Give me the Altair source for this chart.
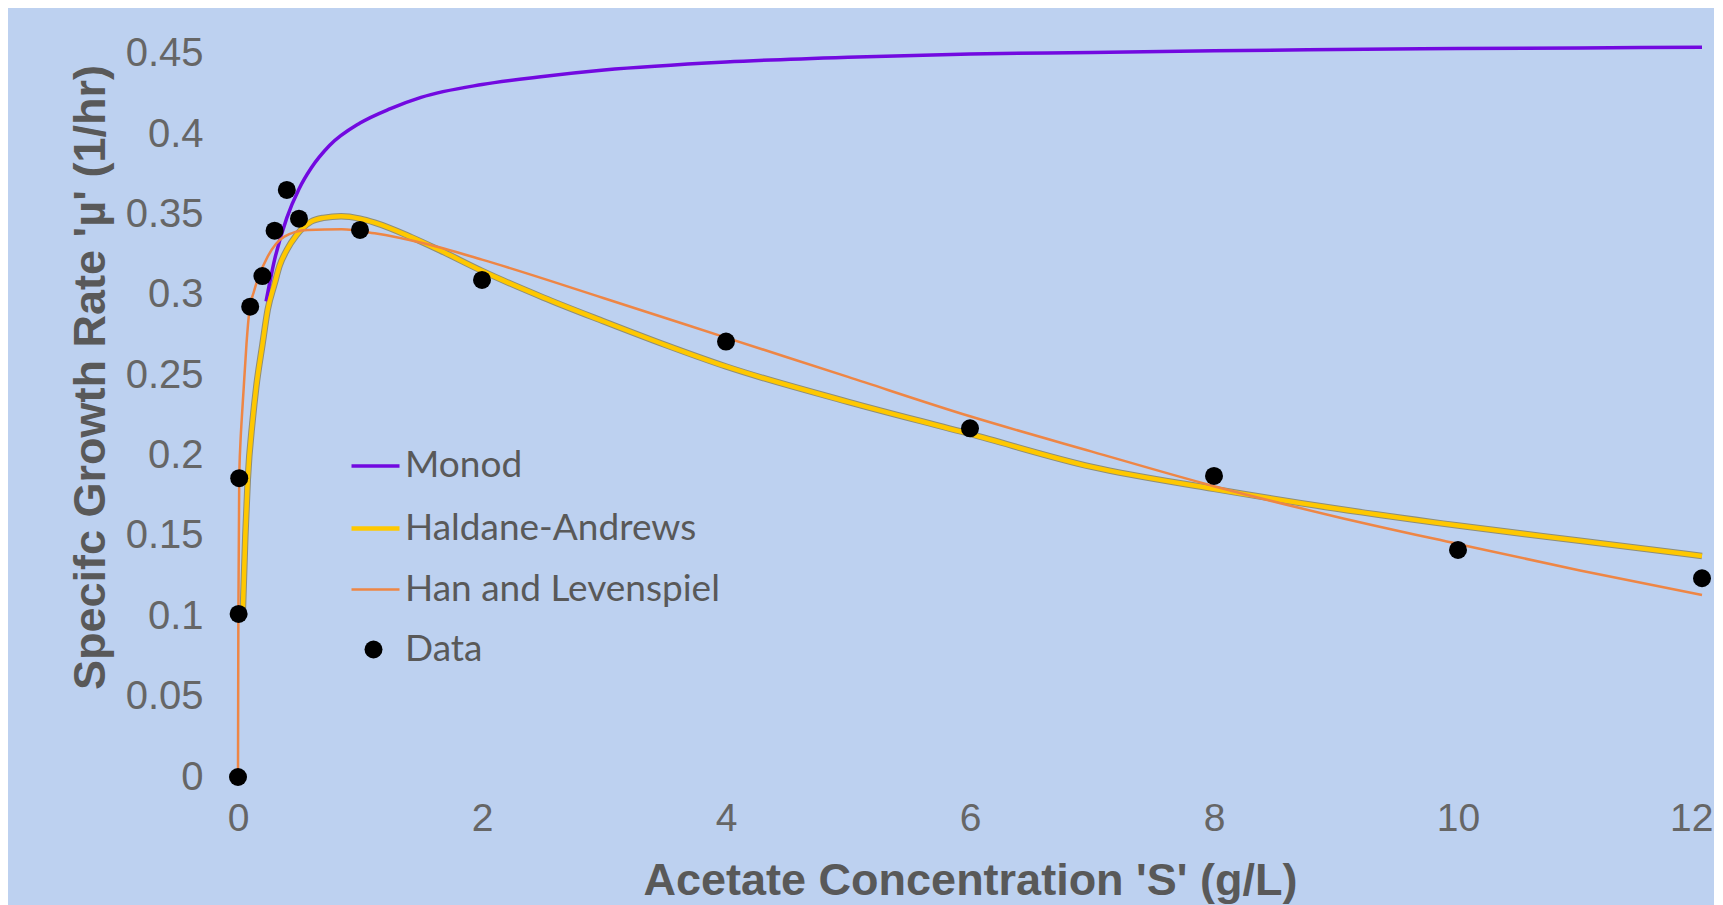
import altair as alt
import pandas as pd

# ---- data ----
data_x = [0, 0.005, 0.01, 0.1, 0.2, 0.3, 0.4, 0.5, 1, 2, 4, 6, 8, 10, 12]
data_y = [0, 0.1015, 0.186, 0.2927, 0.3118, 0.340, 0.3654, 0.3475, 0.3405,
          0.3094, 0.271, 0.217, 0.1874, 0.1413, 0.1237]

monod_x = [0.23, 0.3, 0.4, 0.5, 0.6, 0.75, 1, 1.25, 1.5, 2, 2.5, 3, 4, 5, 6,
           7, 8, 9, 10, 11, 12]
monod_y = [0.296, 0.322, 0.348, 0.366, 0.379, 0.393, 0.407, 0.416, 0.423,
           0.431, 0.436, 0.440, 0.445, 0.448, 0.450, 0.451, 0.452, 0.4528,
           0.4534, 0.4538, 0.4542]

hald_x = [0.04, 0.06, 0.08, 0.12, 0.15, 0.2, 0.244, 0.3, 0.34, 0.4, 0.477,
          0.6, 0.7, 0.846, 1.0, 1.12, 1.42, 1.65, 2.0, 2.5, 3, 3.5, 4, 5, 6,
          7, 8, 9, 10, 11, 12]
hald_y = [0.104, 0.150, 0.185, 0.222, 0.243, 0.269, 0.291, 0.307, 0.318,
          0.328, 0.337, 0.3457, 0.348, 0.349, 0.3475, 0.345, 0.336, 0.328,
          0.315, 0.2985, 0.2835, 0.269, 0.2555, 0.2335, 0.2135, 0.193,
          0.1793, 0.1671, 0.1565, 0.147, 0.1376]

han_x = [0, 0.003, 0.01, 0.02, 0.03, 0.045, 0.07, 0.094, 0.13, 0.163, 0.244,
         0.38, 0.57, 0.85, 1.12, 1.53, 2, 3, 4, 5, 6, 7, 8, 9, 10, 11, 12]
han_y = [0, 0.1, 0.185, 0.208, 0.222, 0.240, 0.270, 0.2907, 0.302, 0.310,
         0.324, 0.3363, 0.3405, 0.3409, 0.3384, 0.332, 0.322, 0.298, 0.2735,
         0.249, 0.2245, 0.2025, 0.181, 0.162, 0.145, 0.1285, 0.1133]

line_names = ["Monod", "Haldane-Andrews", "Han and Levenspiel"]
line_colors = ["#7209E0", "#FFC800", "#EE8645"]
line_widths = [3.5, 4.5, 2.5]
data_name = "Data"

x_ticks = [0, 2, 4, 6, 8, 10, 12]
y_ticks = [0, 0.05, 0.1, 0.15, 0.2, 0.25, 0.3, 0.35, 0.4, 0.45]

df_data = pd.DataFrame({"S": data_x, "mu": data_y, "series": [data_name] * len(data_x)})
df_lines = pd.concat([
    pd.DataFrame({"S": monod_x, "mu": monod_y, "series": line_names[0]}),
    pd.DataFrame({"S": hald_x, "mu": hald_y, "series": line_names[1]}),
    pd.DataFrame({"S": han_x, "mu": han_y, "series": line_names[2]}),
], ignore_index=True)
df_hald = pd.DataFrame({"S": hald_x, "mu": hald_y})

GRAY = "#595959"
xscale = alt.Scale(domain=[0, 12], nice=False, zero=False)
yscale = alt.Scale(domain=[0, 0.478], nice=False)

last_x = "datum.value == 12"
xenc = alt.X("S:Q", scale=xscale, axis=alt.Axis(
    values=x_ticks, format="~g", grid=False, domain=False, ticks=False, tickSize=0,
    labelFlush=False,
    labelAlign={"condition": {"test": last_x, "value": "right"}, "value": "center"},
    labelOffset={"condition": {"test": last_x, "value": 11}, "value": 0},
    labelFont="Liberation Sans", labelFontSize=39, labelColor="#666666",
    labelBaseline="alphabetic", labelPadding=53,
    title="Acetate Concentration 'S' (g/L)", titleFont="Liberation Sans",
    titleFontSize=45, titleFontWeight="bold", titleColor=GRAY,
    titleBaseline="alphabetic", titleY=117))
yenc = alt.Y("mu:Q", scale=yscale, axis=alt.Axis(
    values=y_ticks, format="~g", grid=False, domain=False, ticks=False, tickSize=0,
    labelFlush=False,
    labelFont="Liberation Sans", labelFontSize=40, labelColor="#666666",
    labelPadding=35,
    title="Specifc Growth Rate 'µ' (1/hr)", titleFont="Liberation Sans",
    titleFontSize=45, titleFontWeight="bold", titleColor=GRAY,
    titleAngle=270, titleBaseline="alphabetic", titleAlign="center",
    titleX=-134, titleY=368))

leg_lines = alt.Legend(title=None, orient="none", legendX=111, legendY=431, padding=0,
                       labelFont="Lato", labelFontSize=37, labelColor=GRAY, labelLimit=500,
                       symbolType="stroke", symbolSize=2304, symbolOpacity=1,
                       gridAlign="all", rowPadding=17, labelOffset=3)
leg_data = alt.Legend(title=None, orient="none", legendX=117, legendY=622, padding=0,
                      labelFont="Lato", labelFontSize=37, labelColor=GRAY, labelLimit=500,
                      symbolType="circle", symbolSize=324, symbolStrokeWidth=0,
                      symbolOpacity=1, labelOffset=13)

hald_edge = alt.Chart(df_hald).mark_line(color="#8F8E78", strokeWidth=6.5,
                                         interpolate="monotone").encode(x=xenc, y=yenc)
lines = alt.Chart(df_lines).mark_line(interpolate="monotone").encode(
    x=xenc, y=yenc,
    color=alt.Color("series:N", scale=alt.Scale(domain=line_names, range=line_colors),
                    legend=leg_lines),
    strokeWidth=alt.StrokeWidth("series:N", scale=alt.Scale(type="ordinal", domain=line_names,
                                                            range=line_widths),
                                legend=leg_lines),
)
points = alt.Chart(df_data).mark_point(filled=True, opacity=1, size=324, strokeWidth=0).encode(
    x=xenc, y=yenc,
    fill=alt.Fill("series:N", scale=alt.Scale(domain=[data_name], range=["#000000"]),
                  legend=leg_data),
)

chart = alt.layer(hald_edge, lines, points).properties(
    width=1464, height=768,
    autosize=alt.AutoSizeParams(type="none"),
    padding={"left": 230, "top": 1, "right": 12, "bottom": 128},
    background="#BDD1F0",
).configure_view(stroke=None)

chart.save("out.html", embed_options={"renderer": "svg", "actions": False})
